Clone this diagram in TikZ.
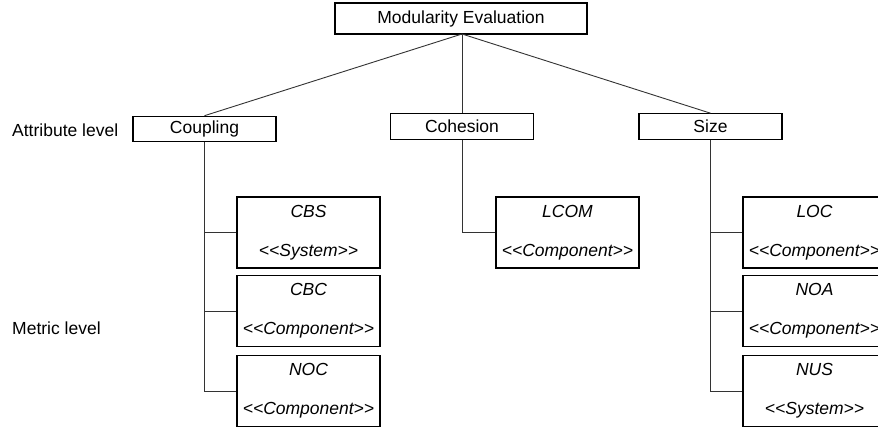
\documentclass[tikz,border=0pt]{standalone}
\usepackage{fontspec}
\setmainfont{Liberation Sans}[Ligatures=TeXOff]
\begin{document}
\begin{tikzpicture}[x=1pt,y=-1pt,
  every node/.style={font=\fontsize{17.5}{21}\selectfont, inner sep=0pt},
  box/.style={draw=black, line width=1.1pt, fill=white, rectangle},
  topbox/.style={box, minimum width=143pt, minimum height=25.5pt},
  rootbox/.style={box, minimum width=252pt, minimum height=31pt},
  metric/.style={box, minimum width=143pt, minimum height=71pt, align=center, font=\fontsize{17.5}{21}\selectfont\itshape},
  link/.style={draw=black!80, line width=0.9pt},
  lvl/.style={anchor=west}]
\clip (0,0) rectangle (878,430);
\fill[white] (0,0) rectangle (878,430);

% root and attribute level
\node[rootbox] (root) at (461,18.5) {Modularity Evaluation};
\node[topbox] (coup) at (204.5,129) {Coupling};
\node[topbox] (coh) at (462,126.5) {Cohesion};
\node[topbox] (size) at (710.5,126.5) {Size};

\node[lvl] (attr) at (12,130) {Attribute level};
\node[lvl] (met) at (12,328) {Metric level};

% metric level
\node[metric] (cbs) at (308.5,232.5) {CBS\\[18pt]<<System>>};
\node[metric] (cbc) at (308.5,311) {CBC\\[18pt]<<Component>>};
\node[metric] (noc) at (308.5,391) {NOC\\[18pt]<<Component>>};
\node[metric] (lcom) at (567.5,232.5) {LCOM\\[18pt]<<Component>>};
\node[metric] (loc) at (814.5,232.5) {LOC\\[18pt]<<Component>>};
\node[metric] (noa) at (814.5,311) {NOA\\[18pt]<<Component>>};
\node[metric] (nus) at (814.5,391) {NUS\\[18pt]<<System>>};

% connectors from the root
\coordinate (rb) at (462,34);
\draw[link] (rb) -- (coup.north);
\draw[link] (rb) -- (coh.north);
\draw[link] (rb) -- (size.north);

% tree branches
\draw[link] (coup.south) |- (cbs.west);
\draw[link] (coup.south) |- (cbc.west);
\draw[link] (coup.south) |- (noc.west);
\draw[link] (coh.south) |- (lcom.west);
\draw[link] (size.south) |- (loc.west);
\draw[link] (size.south) |- (noa.west);
\draw[link] (size.south) |- (nus.west);
\end{tikzpicture}
\end{document}
